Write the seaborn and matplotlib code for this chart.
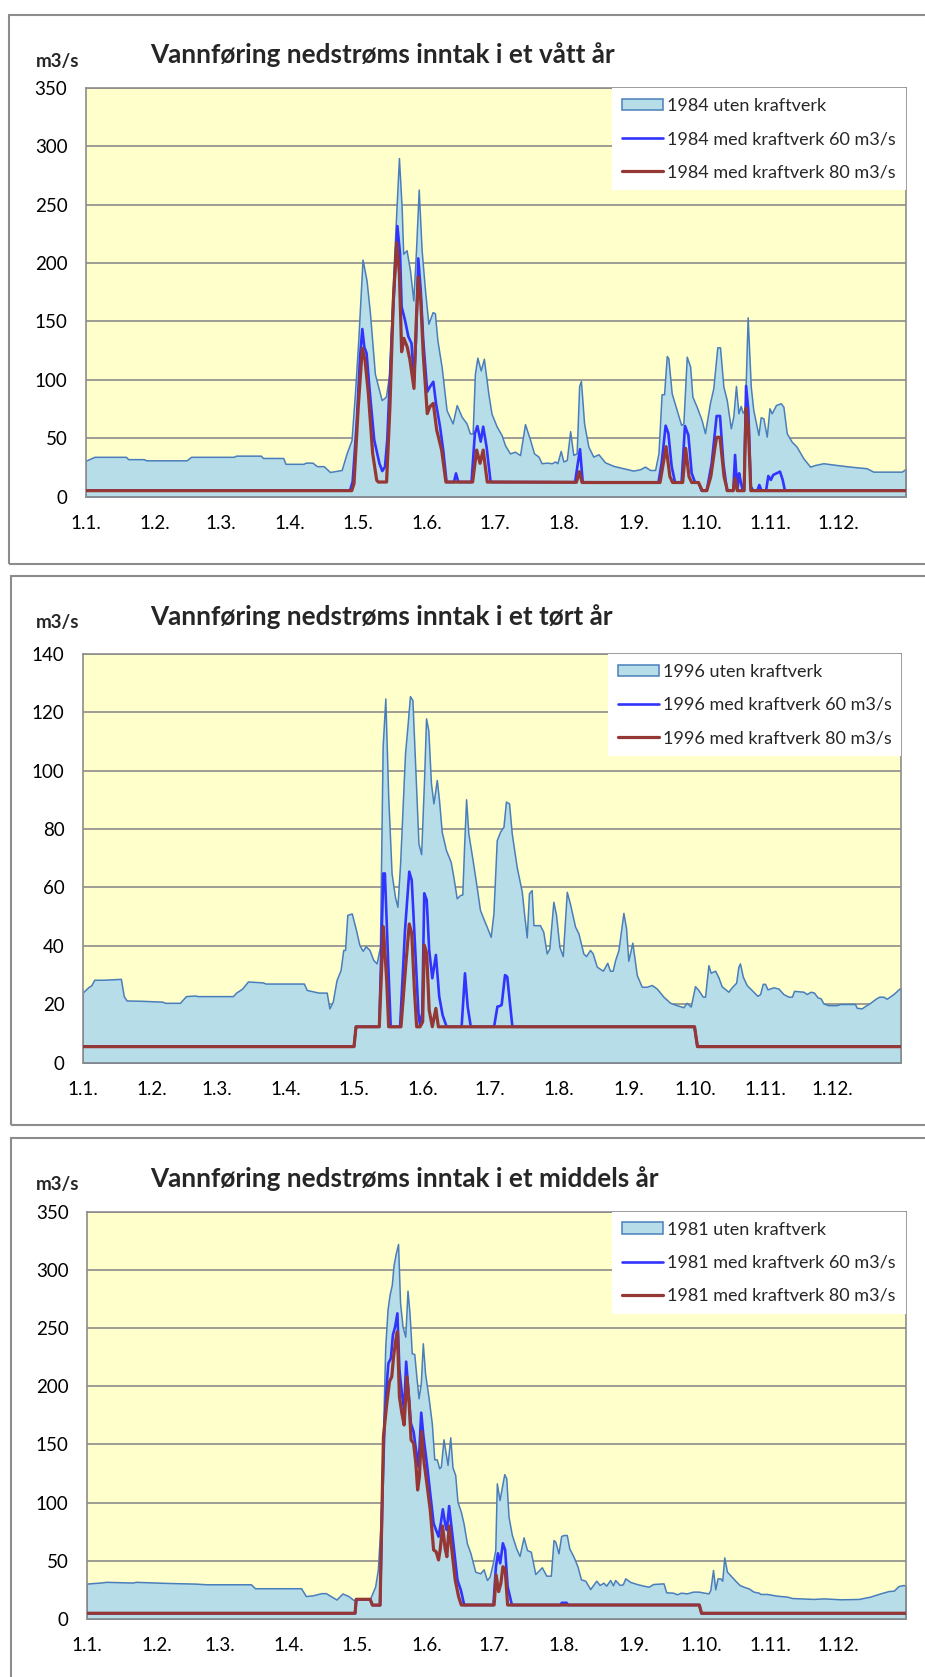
import numpy as np
import matplotlib
matplotlib.use("Agg")
import matplotlib.pyplot as plt
from matplotlib.patches import Rectangle
import seaborn as sns

W, H = 925, 1677

# ---- data (day of year from 1 Jan, m3/s) ----
# 1984, wet year
wet_area_days = [0, 4, 18, 19, 26, 27, 45, 47, 66, 67, 78, 79, 88, 89, 97, 98, 101, 103, 106, 108.8,
                 114, 116.2, 118.4, 119.9, 121.4, 123.3, 125.1, 126.6, 128.8, 131.8, 133.7, 135.2, 137, 139.5,
                 140.7, 141.4, 142.9, 144.4, 145.9, 147.1, 148.3, 149.6, 151.1, 152.6, 154.5, 155.5, 156.6,
                 158.5, 160.7, 163.4, 165.2, 167.4, 169.6, 171.1, 172.3, 173.3, 174.4, 175.9, 177.3, 179.3,
                 180.7, 183, 185.2, 186.7, 188.9, 191.1, 193.4, 195.6, 197.9, 199.6, 201.6, 203, 205.3, 207.5,
                 209, 210, 211.5, 212.7, 214.2, 215.7, 217.1, 218.6, 219.7, 220.5, 221.9, 223.8, 226, 228.3,
                 231.2, 235, 239.4, 243.8, 246.8, 249, 251.3, 253.5, 255, 256.4, 257.5, 258.7, 259.4, 260.9,
                 263.1, 265.1, 266.1, 267.6, 269.1, 270.1, 272, 274.2, 275.7, 277.9, 279.4, 281.2, 282.4,
                 283.9, 285.4, 287.2, 288.3, 289.5, 290.6, 291.6, 292.5, 293.5, 294.7, 296.1, 297.2, 299.5,
                 300.5, 301.7, 303.2, 304.4, 305.4, 307.3, 309.4, 310.6, 312.1, 314.3, 316.5, 319.5, 322.5,
                 324.7, 328.4, 334.3, 340.3, 347.7, 350.6, 356.6, 363.3, 365]
wet_area_vals = [30.6, 34, 34, 32, 32, 31, 31, 34, 34, 35, 35, 33, 33, 28, 28, 29, 29, 26, 26, 21,
                 22.7, 36.9, 48.4, 88, 134, 203, 185, 157, 105, 82.6, 85.5, 105, 191, 290,
                 248, 208, 211, 194, 168, 211, 263, 211, 177, 148, 158, 157, 134,
                 111, 74, 62.6, 78.3, 68.4, 62.6, 54, 54, 105, 119, 108, 118, 88,
                 71, 60, 52.6, 44, 36.9, 38.4, 35.5, 62, 48.4, 37, 34.2, 28.5, 29, 28.5,
                 30, 28.5, 39, 30, 31.3, 56, 35.6, 37, 94.7, 99, 62.7, 42.7, 34.2, 36.2,
                 29.3, 26.2, 24.2, 22.2, 23.3, 25.6, 22.7, 22.7, 37, 87.6, 87.6, 120.4, 118.4, 88.4,
                 74.2, 61.3, 62.7, 119.8, 111.3, 85.6, 77, 65.6, 54.2, 79.9, 92.7, 127.8, 127.8,
                 94.1, 82.7, 58.4, 68.4, 94.7, 71.3, 77.6, 71.9, 74.2, 153.5, 94.1, 74.2, 52.7,
                 67.9, 67, 51.3, 75.6, 71.3, 78.4, 79.9, 77, 54.2, 47, 42.7, 32.7, 25.6,
                 27, 28.5, 27, 25.6, 24.2, 21.3, 21.3, 21.3, 23.6]
wet_60_days = [0, 117.7, 118.9, 120.7, 122.2, 123.2, 124.1, 125.1, 126.6, 128.5, 130.8, 132.1, 133.3, 134.3,
               136.2, 138.8, 140, 140.7, 142.2, 143.7, 145.1, 146.2, 147.1, 148.1, 149.2, 150.3, 152.1, 153.3,
               154.8, 156, 157.8, 159.2, 160.7, 164, 164.9, 165.9, 171.8, 173.3, 174.4, 175.9, 177, 178.5,
               180.3, 217.9, 218.9, 220.1, 221.3, 255, 256.4, 258.2, 259.4, 260.9, 262.4, 265.3, 266.8, 268.3,
               269.8, 271.3, 272.8, 274.2, 276.5, 278.7, 280.9, 282.4, 283.9, 285.5, 288.3, 289.1, 290.1, 290.9,
               291.6, 292.5, 293.1, 294, 295, 296.1, 297.2, 299, 299.9, 300.9, 302.9, 303.9, 305, 306.1, 307.6,
               309.1, 310.3, 311.3, 365]
wet_60_vals = [5, 5, 12.7, 62.6, 120, 143.5, 128, 122.6, 88, 48.4, 28.4, 21.8, 25.5, 48.4,
               134, 231.7, 208, 162.6, 151, 137, 131.2, 99.8, 134, 204, 176.9, 134, 89.8, 94,
               98.3, 79.8, 59.8, 39.8, 12.4, 12.4, 19.8, 12.4, 12.4, 54, 60.3, 47, 59.8, 42.6,
               12.4, 12.2, 25.6, 40.5, 12.2, 12, 28.5, 60.7, 54.2, 25.6, 12, 12, 60.4, 52.7,
               19.9, 12, 12, 5, 5, 28.5, 69, 69, 28.5, 5, 5, 35.6, 5, 19.9,
               12.8, 5, 5, 94.7, 74, 8.5, 5, 5, 9.9, 5, 5, 17.6, 14.2, 18.5, 19.9,
               21.3, 14.2, 5, 5]
wet_80_days = [0, 118.5, 119.5, 121.4, 123.2, 124.4, 125.9, 127.8, 129.6, 130.3, 134, 135.5, 137, 138.5,
               139.7, 140.7, 141.7, 143.2, 144.4, 146.2, 147.1, 148.1, 149.2, 150.3, 152.1, 153.3, 154.8,
               156.3, 158.5, 160.4, 172.3, 174.1, 175.6, 177, 178.8, 218.5, 219.8, 221, 255.7, 258.4, 260.1,
               261.3, 265.8, 267.1, 268.6, 269.8, 272.8, 274.5, 276.5, 278.3, 280.2, 280.9, 282.4, 284.2,
               285.7, 288.3, 289.1, 290.1, 293.1, 294, 295, 296.1, 365]
wet_80_vals = [5, 5, 11, 77, 127, 117, 88, 37, 14, 12.4, 12.4, 77, 168, 217.5,
               191, 124, 135.5, 128, 117, 92.6, 145, 188, 168, 122.6, 71, 77, 79.8,
               57, 39.8, 12.4, 12.4, 39.8, 28.4, 39.8, 12.4, 12.2, 21.3, 12, 12, 42.7, 17,
               12, 12, 41.3, 17, 12, 12, 5, 5, 17, 42.7, 50.7, 50.7, 17,
               5, 5, 15.6, 5, 5, 75.6, 60, 5, 5]

# 1996, dry year
dry_area_days = [0, 2.6, 3.9, 5.2, 9.2, 17.1, 18.4, 19.7, 26.3, 35.6, 36.9, 43.5, 46.2, 50.2, 51.5, 67.2,
                 68.6, 71.2, 73.9, 80.5, 81.8, 98.9, 100.2, 105.5, 109.1, 110.3, 111.8, 113.5, 115.3, 116.5,
                 117.3, 118.3, 120.3, 122.2, 123.7, 125.2, 126.5, 128.2, 129.9, 131.4, 132.9, 134.1, 135.3,
                 136.6, 138.1, 139.6, 140.7, 141.9, 144.1, 145.3, 146.3, 147.4, 148.6, 150.1, 151.3, 152.6,
                 153.5, 154.5, 155.7, 156.8, 158.3, 159.3, 160.5, 162.4, 164.5, 165.7, 167.2, 168.7, 169.7,
                 170.5, 171.4, 172.4, 174.3, 176.1, 177.6, 179.4, 180.6, 182.4, 183.6, 185.1, 186.6, 188.1,
                 189.2, 190.6, 191.8, 194, 196.3, 197.3, 198.5, 199.5, 200.7, 201.5, 204.4, 205.9, 207.4,
                 208.6, 210.4, 211.6, 213.1, 214.6, 216.4, 217.8, 220.1, 221.6, 223.8, 225, 226.8, 228,
                 229.8, 232.5, 234.5, 235.7, 236.9, 238, 239.5, 241.7, 242.9, 243.9, 245.7, 247.7, 249.9,
                 252.1, 254.4, 256.6, 259.6, 262.6, 265.5, 268.5, 270, 271.8, 273.7, 275.2, 277.2, 278.2,
                 279.7, 280.7, 282.7, 284.2, 285.6, 288.6, 290.1, 292.1, 293.1, 293.8, 295.1, 296.8, 299.8,
                 301.6, 302.8, 304, 305, 306.1, 308.7, 311, 313.2, 315.5, 317, 318, 322.2, 323.6, 325.4,
                 326.9, 328.4, 329.9, 331.1, 333.3, 337.1, 338.6, 345.2, 346, 348.2, 349.7, 352, 354.6,
                 356.1, 357.9, 359.4, 362.4, 365.1, 366]
dry_area_vals = [24, 25.9, 26.5, 28.4, 28.4, 28.7, 22.8, 21.3, 21.2, 20.9, 20.5, 20.5, 22.8, 23, 22.8, 22.8,
                 24, 25.3, 27.8, 27.5, 27.1, 27.1, 24.9, 24, 24, 18.6, 20.9, 28.3, 31.7, 38.6,
                 38.6, 50.6, 51.1, 45.4, 40.3, 38.3, 39.9, 38.6, 35.2, 34, 39.7, 108.2, 124.7,
                 91, 64.8, 56.8, 53.4, 68.2, 105.9, 116.2, 125.5, 124.2, 102.5, 75.1, 71.4, 96.8,
                 117.9, 113.9, 95.6, 88.8, 96.8, 89.9, 79.1, 72.8, 68.8, 63.7, 56.3, 57.4, 57.6,
                 74, 90.2, 78.5, 69.4, 60.3, 52.3, 48.8, 46.6, 43.1, 51.1, 76.2, 79.1, 80.8,
                 89.4, 88.8, 78.5, 67.1, 58.5, 51.1, 42.9, 58, 59.1, 47.1, 47.1, 44.8, 37.4,
                 39.1, 55.1, 50.6, 39.7, 36.5, 58.5, 54.5, 46.6, 44.3, 37.4, 36.5, 38.6, 37.4,
                 32.9, 31.5, 34.2, 31.5, 31.5, 35.1, 38.6, 51.3, 46, 34.9, 41.1, 30, 26,
                 26, 26.6, 25.4, 22.6, 20.5, 19.7, 19, 20.5, 19.2, 26.2, 24.9, 22.6, 22.6,
                 33.4, 30.8, 31.5, 29.2, 26.2, 24.3, 25.8, 27.4, 32.9, 34, 29.4, 26.6, 24.3,
                 22.9, 23.5, 27, 27, 25.1, 25.8, 25.4, 23.5, 22.6, 22.6, 24.6, 24.3, 23.5, 24.3,
                 24, 22.4, 22, 20.3, 19.7, 19.7, 20.1, 20.1, 18.8, 18.6, 19.4, 20.5, 22,
                 22.6, 22.6, 21.9, 23.5, 25.4, 25.4]
dry_60_days = [0, 121.3, 122.2, 132.6, 134.4, 135.1, 136.6, 137.7, 141.9, 144.1, 146, 147.1, 148.6, 150.1,
               150.8, 151.8, 152.7, 153.8, 154.9, 156.3, 157.9, 159.4, 160.9, 162.7, 169.4, 170.9, 172.1,
               173.5, 183.9, 185.4, 186.5, 187.3, 188.8, 189.8, 191, 192.1, 273.5, 274.8, 366]
dry_60_vals = [5.5, 5.5, 12.3, 12.3, 64.8, 64.8, 34, 12.3, 12.3, 45.4, 65.4, 62.5, 39.7, 16.9,
               12.9, 16.9, 58, 55.7, 38.6, 28.9, 36.9, 22.6, 16.3, 12.3, 12.3, 30.6, 19.2,
               12.3, 12.3, 19.2, 19.4, 19.8, 30, 29.4, 20.3, 12.3, 12.3, 5.5, 5.5]
dry_80_days = [0, 121.3, 122.2, 132.6, 134.4, 135.9, 136.8, 142.3, 144.5, 146, 147.1, 148.3, 149.3, 150.8,
               152, 152.7, 153.8, 154.9, 156.3, 157.9, 159, 273.5, 274.8, 366]
dry_80_vals = [5.5, 5.5, 12.3, 12.3, 46.6, 28.3, 12.3, 12.3, 34, 47.5, 44.3, 24.9, 12.3, 12.3,
               14, 40.3, 37.4, 18, 12.3, 18.6, 12.3, 12.3, 5.5, 5.5]

# 1981, average year
mid_area_days = [0, 6, 8.7, 20.5, 21.8, 34.9, 48, 53.3, 73, 74.8, 95.3, 97.4, 100.5, 104.4, 106.3, 111,
                 113.7, 116.3, 118.6, 126, 128.2, 129.4, 130.7, 131.9, 132.7, 133.7, 134.6, 135.6, 136.4,
                 137.4, 138.4, 139.3, 140.4, 141.6, 142.6, 143.5, 144.5, 145.6, 146.4, 147.5, 148.5, 149.4,
                 150.4, 151.9, 153.4, 154.5, 155.6, 156.7, 157.4, 158.6, 160.4, 161.6, 162.6, 163.8, 164.8,
                 166.3, 167.5, 169, 170.5, 172.7, 174.9, 176.4, 177.9, 179.1, 180.5, 181.6, 182.3, 183.5,
                 185.6, 186.5, 187.5, 189, 190.9, 192.4, 194.2, 195.7, 197.4, 199.4, 202.3, 204.3, 206.3,
                 207.5, 208.3, 209.7, 210.9, 212, 213.4, 214.5, 216.4, 218.2, 219.7, 221.6, 223.8, 226.5,
                 228, 229.7, 230.9, 232.7, 233.9, 234.9, 236.9, 238.3, 239.4, 241.6, 244.6, 247.5, 249.8,
                 251.7, 256.4, 257.6, 260.6, 262.4, 264.1, 266.8, 269.5, 272, 274.5, 276.4, 277.2, 278.4,
                 279.4, 280.4, 281.6, 282.5, 283.4, 284.6, 286.4, 288.3, 290.2, 292, 294.2, 296.4, 298.7,
                 299.4, 302.4, 306.8, 311.3, 313.5, 317.2, 323.1, 327.6, 335, 343.1, 348.3, 352.8, 356.5,
                 358.7, 360.9, 363.1, 364]
mid_area_vals = [30.5, 31.4, 32, 31.4, 32, 31.1, 30.5, 29.9, 29.9, 26.5, 26.5, 19.8, 20.4, 22.3, 22.3, 16.8,
                 22, 19.8, 16.4, 17.8, 27.9, 42.2, 85.1, 173.9, 234, 265.5, 278.4, 287, 304.1,
                 314.2, 322.2, 271.2, 251.2, 242.6, 282.1, 262.6, 228.3, 227.7, 211.1, 189.6, 202.5, 236.9,
                 211.1, 191.1, 168.1, 137.2, 137.2, 129.5, 130.9, 154.4, 132.4, 156.1, 130.4, 123.8, 100.9,
                 92.3, 82.3, 65.1, 57.1, 40.7, 39.3, 42.8, 33.6, 36.5, 47.9, 59.4, 116.6, 102.3,
                 124.5, 120.9, 88, 72.2, 60.8, 54.2, 70.2, 59.3, 57.9, 38.7, 44.5, 37.3, 37.3,
                 67.9, 66.5, 56.5, 71.4, 72.2, 72.2, 60.8, 53.6, 45, 34.1, 33, 25.8, 33,
                 29.3, 31.3, 28.7, 33.6, 29, 33.6, 29.3, 29.9, 35, 31.9, 30.1, 28.7, 27.8,
                 30.1, 30.7, 23, 22.7, 21.3, 22.7, 22.1, 23.6, 23.6, 22.7, 22.1, 25, 42.2,
                 25.6, 35, 35, 33, 53, 40.7, 37, 33, 29.3, 27.8, 26.4, 23.6, 22.7,
                 21.6, 21.6, 20.1, 19.3, 18.1, 17.8, 17.3, 17.8, 17, 17.3, 19.3, 22.1, 24.1,
                 24.4, 28.4, 29.3, 28.7]
mid_60_days = [0, 119.3, 119.8, 126, 127, 130.4, 131.5, 132.4, 133.4, 134.1, 135.2, 136.1, 137.1, 138.1,
               139, 140.1, 141.1, 142, 143, 144.1, 145.3, 146.4, 147.5, 148.7, 149.7, 151.2, 152.7, 154.2,
               155.3, 156.4, 157.4, 158.3, 159.3, 160.1, 161.1, 162.3, 163.3, 164.8, 166.3, 167.8, 180.8,
               181.9, 182.8, 183.8, 185, 186, 187.1, 189, 210.5, 211.2, 213.3, 214, 272.3, 273.3, 364]
mid_60_vals = [5, 5, 17, 17, 12, 12, 110.9, 168.1, 202.5, 219.7, 224, 244, 251.2, 262.6,
               214, 193.9, 179.6, 221.1, 196.8, 168.1, 161, 145.2, 130.9, 177.3, 156.7, 133.8, 108, 82.3,
               76.5, 70.8, 82.3, 94.3, 82.3, 76.5, 97.1, 76.5, 59.4, 33.6, 25, 12.1, 12.1,
               45, 56.5, 47.9, 65.1, 59.4, 27.9, 12.1, 12.1, 14, 14, 12.1, 12.1, 5, 5]
mid_80_days = [0, 119.3, 119.8, 126, 127, 130.4, 131.9, 133.4, 134.6, 135.6, 136.4, 137.4, 138.1, 139,
               140.1, 141.1, 142.3, 143.3, 144.2, 145.3, 146.3, 147.1, 147.9, 148.8, 150, 151.2, 152.7,
               154.2, 155.3, 156.4, 157.1, 158.2, 159.3, 160.1, 161.1, 162.3, 163.8, 165.3, 166.5, 181.1,
               182, 183.1, 184.1, 185, 186, 187.1, 272.3, 273.3, 364]
mid_80_vals = [5, 5, 17, 17, 12, 12, 156.7, 185.3, 204, 208.2, 225.4, 239.7, 246.9, 191.1,
               176.7, 166.7, 208.2, 185.3, 153.8, 151, 133.8, 110.9, 122.3, 161, 133.8, 116.6, 93.7,
               59.4, 57.9, 50.8, 59.4, 80, 60.8, 53.6, 80, 59.4, 33.6, 19.3, 12.1, 12.1,
               37.9, 23.6, 30.7, 45, 42.7, 12.1, 12.1, 5, 5]

month_labels = ["1.1.", "1.2.", "1.3.", "1.4.", "1.5.", "1.6.", "1.7.", "1.8.", "1.9.", "1.10.", "1.11.", "1.12."]
month_starts_leap = [0, 31, 60, 91, 121, 152, 182, 213, 244, 274, 305, 335]
month_starts_norm = [0, 31, 59, 90, 120, 151, 181, 212, 243, 273, 304, 334]

titles = ["Vannføring nedstrøms inntak i et vått år",
          "Vannføring nedstrøms inntak i et tørt år",
          "Vannføring nedstrøms inntak i et middels år"]
years = ["1984", "1996", "1981"]

# colours
BG = "#FFFFCC"
AREA = "#B7DEE8"
AREA_EDGE = "#4A7EBB"
BLUE = "#3333FF"
RED = "#953735"
GRID = "#8C8C8C"

sns.set_style("white")
plt.rcParams["font.family"] = ["Lato", "DejaVu Sans"]

fig = plt.figure(figsize=(W / 100, H / 100), dpi=100)


def fig_rect(left, top, right, bottom):
    return [left / W, 1 - bottom / H, (right - left) / W, (bottom - top) / H]


# panel layout in pixels: chart box, plot area, title baseline, unit baseline
panels = [
    dict(box=(9, 15, 930, 564), plot=(85.5, 88, 905.6, 496.5), title_y=63, unit_y=67,
         area=(wet_area_days, wet_area_vals), l60=(wet_60_days, wet_60_vals), l80=(wet_80_days, wet_80_vals),
         ymax=350, ystep=50, span=365, months=month_starts_leap),
    dict(box=(11, 576, 930, 1125), plot=(82.6, 653.8, 901.5, 1062.7), title_y=625, unit_y=628,
         area=(dry_area_days, dry_area_vals), l60=(dry_60_days, dry_60_vals), l80=(dry_80_days, dry_80_vals),
         ymax=140, ystep=20, span=366, months=month_starts_leap),
    dict(box=(11, 1138, 930, 1690), plot=(86.7, 1211.6, 905.6, 1619.1), title_y=1187, unit_y=1190,
         area=(mid_area_days, mid_area_vals), l60=(mid_60_days, mid_60_vals), l80=(mid_80_days, mid_80_vals),
         ymax=350, ystep=50, span=364, months=month_starts_norm),
]

for i, p in enumerate(panels):
    bx0, by0, bx1, by1 = p["box"]
    fig.patches.append(Rectangle((bx0 / W, 1 - by1 / H), (bx1 - bx0) / W, (by1 - by0) / H,
                                 transform=fig.transFigure, fill=False, edgecolor="#8C8C8C", linewidth=1.5))
    fig.text(150 / W, 1 - p["title_y"] / H, titles[i], fontsize=18.8, fontweight="bold",
             ha="left", va="baseline")
    fig.text(36 / W, 1 - p["unit_y"] / H, "m3/s", fontsize=13.5, fontweight="bold",
             ha="left", va="baseline")

    ax = fig.add_axes(fig_rect(*p["plot"]))
    ax.set_facecolor(BG)

    year = years[i]
    ax.fill_between(p["area"][0], p["area"][1], 0, facecolor=AREA, edgecolor=AREA_EDGE,
                    linewidth=1.1, label=f"{year} uten kraftverk", zorder=2)
    sns.lineplot(x=p["l60"][0], y=p["l60"][1], ax=ax, color=BLUE, linewidth=1.9,
                 estimator=None, sort=False, label=f"{year} med kraftverk 60 m3/s", zorder=3)
    sns.lineplot(x=p["l80"][0], y=p["l80"][1], ax=ax, color=RED, linewidth=2.3,
                 estimator=None, sort=False, label=f"{year} med kraftverk 80 m3/s", zorder=4)

    ax.set_xlim(0, p["span"])
    ax.set_ylim(0, p["ymax"])
    ax.set_yticks(np.arange(0, p["ymax"] + 1, p["ystep"]))
    ax.set_xticks(p["months"] + [p["span"]])
    ax.set_xticklabels(month_labels + [""])
    ax.set_xlabel("")
    ax.set_ylabel("")
    ax.grid(axis="y", color=GRID, linewidth=1.2)
    ax.grid(axis="x", visible=False)
    ax.set_axisbelow(True)
    ax.tick_params(axis="x", length=5, width=1, color=GRID, pad=8, labelsize=13.5, labelcolor="black")
    ax.tick_params(axis="y", length=0, pad=13, labelsize=13.5, labelcolor="black")
    for s in ax.spines.values():
        s.set_visible(True)
        s.set_color(GRID)
        s.set_linewidth(1.2)

    handles, labels = ax.get_legend_handles_labels()
    order = [labels.index(f"{year} uten kraftverk"),
             labels.index(f"{year} med kraftverk 60 m3/s"),
             labels.index(f"{year} med kraftverk 80 m3/s")]
    leg = ax.legend([handles[k] for k in order], [labels[k] for k in order],
                    loc="upper right", bbox_to_anchor=(1, 1), borderaxespad=0,
                    frameon=True, fancybox=False, framealpha=1, facecolor="white", edgecolor="none",
                    fontsize=13, handlelength=2.3, handleheight=0.6, handletextpad=0.2,
                    labelspacing=0.95, borderpad=0.55)
    leg.set_zorder(10)

fig.savefig("out.png", dpi=100)
